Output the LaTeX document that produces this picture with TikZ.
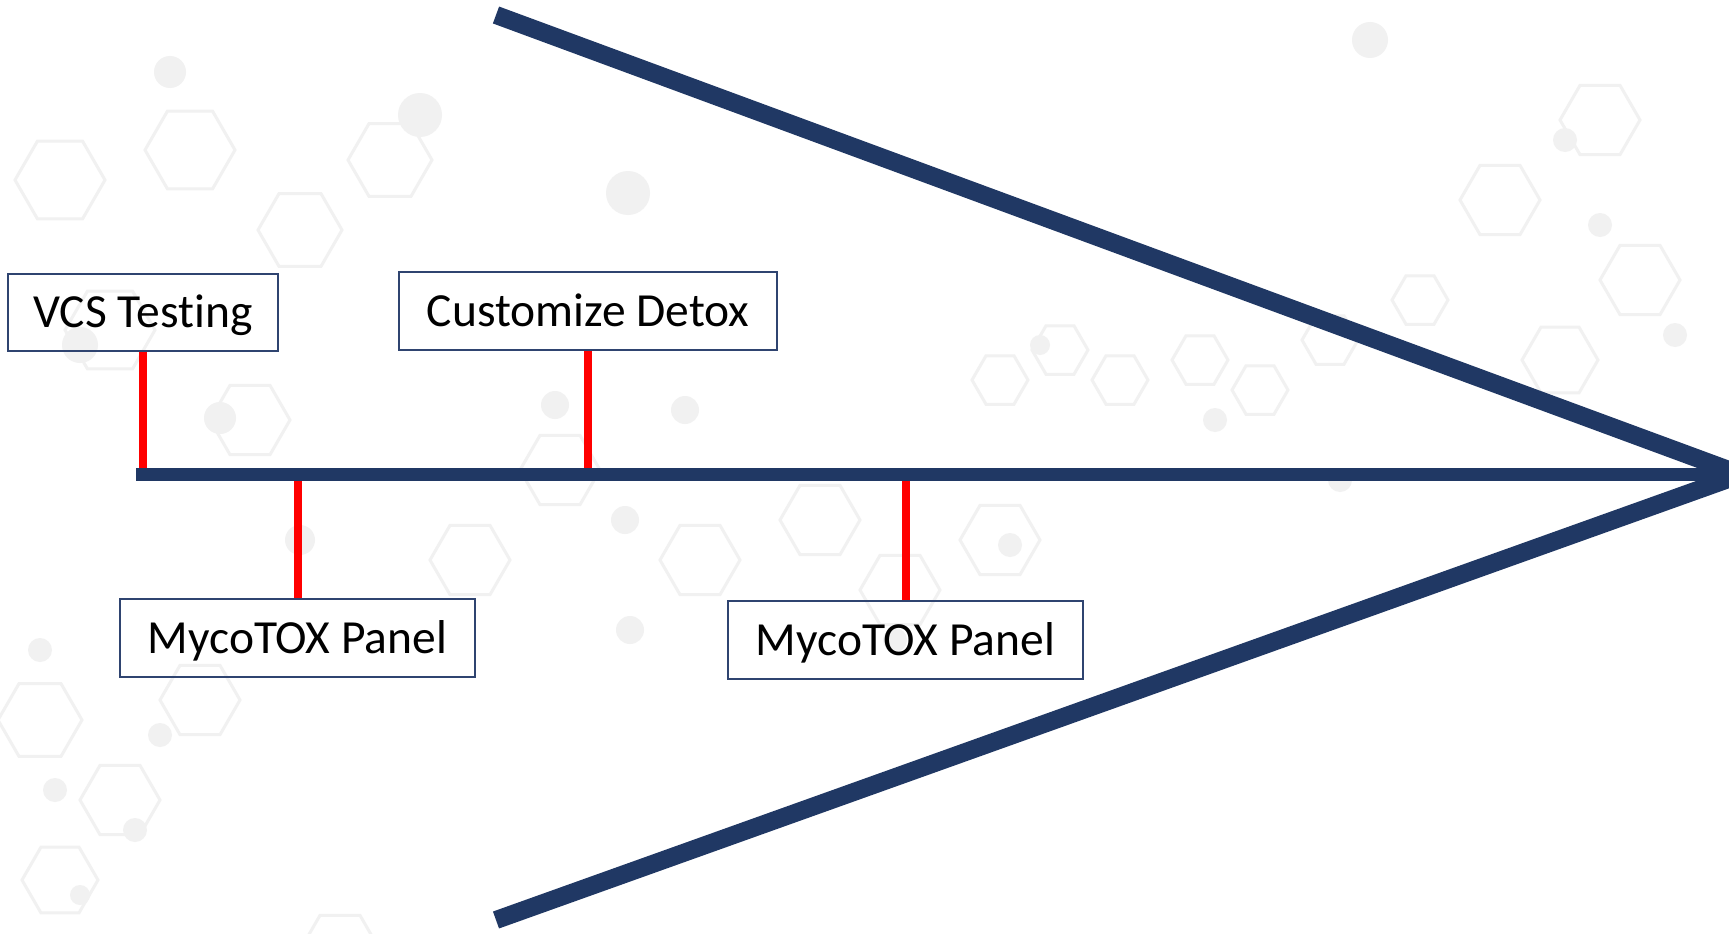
\documentclass[tikz,border=0pt]{standalone}
\usepackage{fontspec}
\setmainfont[Ligatures=NoCommon]{Carlito}
\definecolor{navy}{HTML}{203864}
\definecolor{boxline}{HTML}{2F4470}
\definecolor{bgline}{HTML}{F1F1F1}
\tikzset{
  labelbox/.style={draw=boxline, line width=1.6pt, inner sep=0pt,
    font=\fontsize{47.5}{57}\selectfont, text=black, text height=30.5pt, text depth=0pt},
  spine/.style={draw=navy, line width=13pt},
  wing/.style={draw=navy, line width=18pt},
  redline/.style={draw=red, line width=8pt},
  hexbg/.style={draw=bgline, line width=3pt},
  dotbg/.style={fill=bgline}
}
\begin{document}
\begin{tikzpicture}[x=1pt,y=-1pt]
\useasboundingbox (0,0) rectangle (1729,934);
\fill[white] (0,0) rectangle (1729,934);
% faint molecular background
\begin{scope}
  \foreach \cx/\cy/\r in {60/180/45, 190/150/45, 110/330/45, 300/230/42, 390/160/42, 250/420/40, 470/560/40, 560/470/40,
     40/720/42, 120/800/40, 200/700/40, 60/880/38, 1500/200/40, 1600/120/40, 1640/280/40, 1560/360/38,
     1000/380/28, 1060/350/28, 1120/380/28, 1200/360/28, 1260/390/28, 1330/340/28, 1420/300/28,
     820/520/40, 900/590/40, 1000/540/40, 700/560/40, 340/950/40}{
    \draw[hexbg] (\cx,\cy) +(0:\r) -- +(60:\r) -- +(120:\r) -- +(180:\r) -- +(240:\r) -- +(300:\r) -- cycle;
  }
  \foreach \cx/\cy/\r in {170/72/16, 420/115/22, 80/345/18, 220/418/16, 300/540/15, 628/193/22, 555/405/14, 685/410/14,
     625/520/14, 630/630/14, 40/650/12, 160/735/12, 55/790/12, 135/830/12, 80/895/10, 1010/545/12, 895/640/12,
     1370/40/18, 1565/140/12, 1600/225/12, 1675/335/12, 1215/420/12, 1340/480/12, 1040/345/10}{
    \fill[dotbg] (\cx,\cy) circle (\r);
  }
\end{scope}
% wings of the arrow
\coordinate (tip) at (1741,474.5);
\coordinate (topend) at (496,15);
\coordinate (botend) at (496,920);
\begin{scope}
  \clip (0,0) rectangle (1729,934);
  \draw[wing] (topend) -- (tip);
  \draw[wing] (botend) -- (tip);
\end{scope}
% boxes
\node[labelbox, minimum width=270pt, minimum height=77pt] (vcs) at (143,312.5) {VCS Testing};
\node[labelbox, minimum width=378pt, minimum height=78pt] (cust) at (588,311) {Customize Detox};
\node[labelbox, minimum width=355pt, minimum height=78pt] (myco1) at (297.5,638) {MycoTOX Panel};
\node[labelbox, minimum width=355pt, minimum height=78pt] (myco2) at (905.5,640) {MycoTOX Panel};
% spine
\coordinate (spineL) at (136,474.5);
\coordinate (spineR) at (1729,474.5);
% red connectors
\draw[redline] (vcs.south) -- (vcs.south |- spineL);
\draw[redline] (cust.south) -- (cust.south |- spineL);
\draw[redline] (myco1.north) -- (myco1.north |- spineL);
\draw[redline] (myco2.north) -- (myco2.north |- spineL);
\draw[spine] (spineL) -- (spineR);
\end{tikzpicture}
\end{document}
